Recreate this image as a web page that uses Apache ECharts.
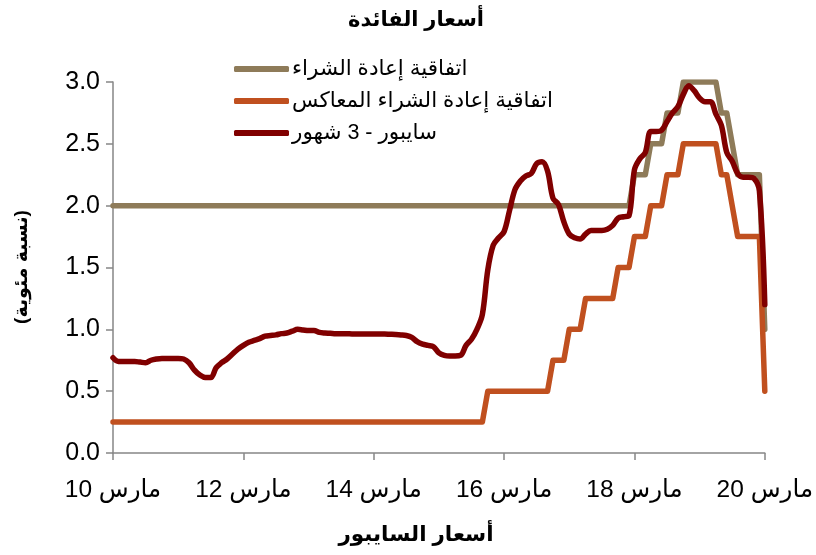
<!DOCTYPE html>
<html>
<head>
<meta charset="utf-8">
<script src="https://cdn.jsdelivr.net/npm/echarts@6/dist/echarts.min.js"></script>
<style>
html,body{margin:0;padding:0;background:#fff;}
#chart{width:816px;height:555px;}
</style>
</head>
<body>
<div id="chart"></div>
<script>
// Monthly observations, March 2010 .. March 2020 (121 months)
var startYear = 2010, startMonth = 3, monthCount = 121;

// Repo rate (%), one row per year starting in March
var repo = [
  2.0,2.0,2.0,2.0,2.0,2.0,2.0,2.0,2.0,2.0,2.0,2.0,
  2.0,2.0,2.0,2.0,2.0,2.0,2.0,2.0,2.0,2.0,2.0,2.0,
  2.0,2.0,2.0,2.0,2.0,2.0,2.0,2.0,2.0,2.0,2.0,2.0,
  2.0,2.0,2.0,2.0,2.0,2.0,2.0,2.0,2.0,2.0,2.0,2.0,
  2.0,2.0,2.0,2.0,2.0,2.0,2.0,2.0,2.0,2.0,2.0,2.0,
  2.0,2.0,2.0,2.0,2.0,2.0,2.0,2.0,2.0,2.0,2.0,2.0,
  2.0,2.0,2.0,2.0,2.0,2.0,2.0,2.0,2.0,2.0,2.0,2.0,
  2.0,2.0,2.0,2.0,2.0,2.0,2.0,2.0,2.0,2.0,2.0,2.0,
  2.25,2.25,2.25,2.5,2.5,2.5,2.75,2.75,2.75,3.0,3.0,3.0,
  3.0,3.0,3.0,3.0,2.75,2.75,2.5,2.25,2.25,2.25,2.25,2.25,
  1.0
];

// Reverse repo rate (%)
var reverseRepo = [
  0.25,0.25,0.25,0.25,0.25,0.25,0.25,0.25,0.25,0.25,0.25,0.25,
  0.25,0.25,0.25,0.25,0.25,0.25,0.25,0.25,0.25,0.25,0.25,0.25,
  0.25,0.25,0.25,0.25,0.25,0.25,0.25,0.25,0.25,0.25,0.25,0.25,
  0.25,0.25,0.25,0.25,0.25,0.25,0.25,0.25,0.25,0.25,0.25,0.25,
  0.25,0.25,0.25,0.25,0.25,0.25,0.25,0.25,0.25,0.25,0.25,0.25,
  0.25,0.25,0.25,0.25,0.25,0.25,0.25,0.25,0.25,0.5,0.5,0.5,
  0.5,0.5,0.5,0.5,0.5,0.5,0.5,0.5,0.5,0.75,0.75,0.75,
  1.0,1.0,1.0,1.25,1.25,1.25,1.25,1.25,1.25,1.5,1.5,1.5,
  1.75,1.75,1.75,2.0,2.0,2.0,2.25,2.25,2.25,2.5,2.5,2.5,
  2.5,2.5,2.5,2.5,2.25,2.25,2.0,1.75,1.75,1.75,1.75,1.75,
  0.5
];

// 3-month SAIBOR (%)
var saibor3m = [
  0.77,0.74,0.74,0.74,0.74,0.735,0.73,0.75,0.76,0.765,0.765,0.765,
  0.765,0.76,0.73,0.67,0.63,0.61,0.61,0.69,0.73,0.76,0.80,0.84,
  0.87,0.895,0.91,0.925,0.945,0.95,0.955,0.965,0.97,0.985,1.0,0.995,
  0.99,0.99,0.975,0.97,0.968,0.965,0.965,0.965,0.963,0.963,0.963,0.962,
  0.962,0.962,0.962,0.96,0.958,0.955,0.95,0.935,0.90,0.88,0.87,0.86,
  0.81,0.79,0.785,0.785,0.79,0.87,0.92,1.0,1.12,1.48,1.68,1.74,
  1.79,1.96,2.13,2.20,2.24,2.26,2.34,2.355,2.28,2.06,2.01,1.87,
  1.77,1.74,1.73,1.77,1.80,1.80,1.80,1.81,1.84,1.90,1.91,1.92,
  2.29,2.38,2.43,2.60,2.60,2.61,2.68,2.75,2.80,2.90,2.97,2.93,
  2.87,2.84,2.84,2.74,2.65,2.43,2.36,2.26,2.23,2.23,2.22,2.12,
  1.20
];

var seriesNames = ['اتفاقية إعادة الشراء', 'اتفاقية إعادة الشراء المعاكس', 'سايبور - 3 شهور'];
var monthWord = 'مارس';
var chartTitle = 'أسعار الفائدة';
var xAxisTitle = 'أسعار السايبور';
var yAxisTitle = '(نسبة مئوية)';

var categories = [];
for (var i = 0; i < monthCount; i++) {
  var m = startMonth - 1 + i;
  var y = startYear + Math.floor(m / 12);
  categories.push(y + '-' + ('0' + (m % 12 + 1)).slice(-2));
}
function isMajor(idx) { return idx % 24 === 0; }

var FONT = '"Liberation Sans", Arial, "DejaVu Sans", sans-serif';
var axisColor = '#868686';

var chart = echarts.init(document.getElementById('chart'), null, {renderer: 'canvas'});
chart.setOption({
  backgroundColor: '#ffffff',
  animation: false,
  textStyle: {fontFamily: FONT},
  grid: {left: 113, right: 50, top: 82, bottom: 102, containLabel: false},
  legend: {
    orient: 'vertical',
    left: 229,
    top: 51,
    itemWidth: 55,
    itemHeight: 6,
    itemGap: 6,
    icon: 'roundRect',
    data: seriesNames,
    textStyle: {fontFamily: FONT, fontSize: 21.5, color: '#000', lineHeight: 26, padding: [0, 0, 0, -2]}
  },
  xAxis: {
    type: 'category',
    data: categories,
    boundaryGap: false,
    axisLine: {lineStyle: {color: axisColor, width: 1.5}},
    axisTick: {show: true, interval: function (idx) { return isMajor(idx); }, length: 7, inside: false, lineStyle: {color: axisColor, width: 1.5}},
    axisLabel: {
      interval: function (idx) { return isMajor(idx); },
      formatter: function (val) { return val.slice(2, 4) + ' ' + monthWord; },
      fontFamily: FONT, fontSize: 24.5, color: '#000', margin: 25
    },
    splitLine: {show: false}
  },
  yAxis: {
    type: 'value',
    min: 0, max: 3, interval: 0.5,
    axisLine: {show: true, lineStyle: {color: axisColor, width: 1.5}},
    axisTick: {show: true, length: 7, lineStyle: {color: axisColor, width: 1.5}},
    axisLabel: {formatter: function (v) { return v.toFixed(1); }, fontFamily: FONT, fontSize: 25, color: '#000', margin: 13},
    splitLine: {show: false}
  },
  graphic: [
    {type: 'text', silent: true, style: {text: chartTitle, x: 416, y: 20, textAlign: 'center', textVerticalAlign: 'middle', font: 'bold 21px ' + FONT, fill: '#000'}},
    {type: 'text', silent: true, style: {text: xAxisTitle, x: 416, y: 535, textAlign: 'center', textVerticalAlign: 'middle', font: 'bold 21.5px ' + FONT, fill: '#000'}},
    {type: 'text', silent: true, x: 22, y: 267, rotation: Math.PI / 2, style: {text: yAxisTitle, x: 0, y: 0, textAlign: 'center', textVerticalAlign: 'middle', font: 'bold 19px ' + FONT, fill: '#000'}}
  ],
  series: [
    {name: seriesNames[0], type: 'line', data: repo, symbol: 'none', color: '#8E7B59',
     lineStyle: {width: 5.5, color: '#8E7B59', cap: 'round', join: 'round'}},
    {name: seriesNames[1], type: 'line', data: reverseRepo, symbol: 'none', color: '#C0501F',
     lineStyle: {width: 5.5, color: '#C0501F', cap: 'round', join: 'round'}},
    {name: seriesNames[2], type: 'line', data: saibor3m, symbol: 'none', smooth: 0.35, color: '#800000',
     lineStyle: {width: 5.5, color: '#800000', cap: 'round', join: 'round'}}
  ]
});
</script>
</body>
</html>
